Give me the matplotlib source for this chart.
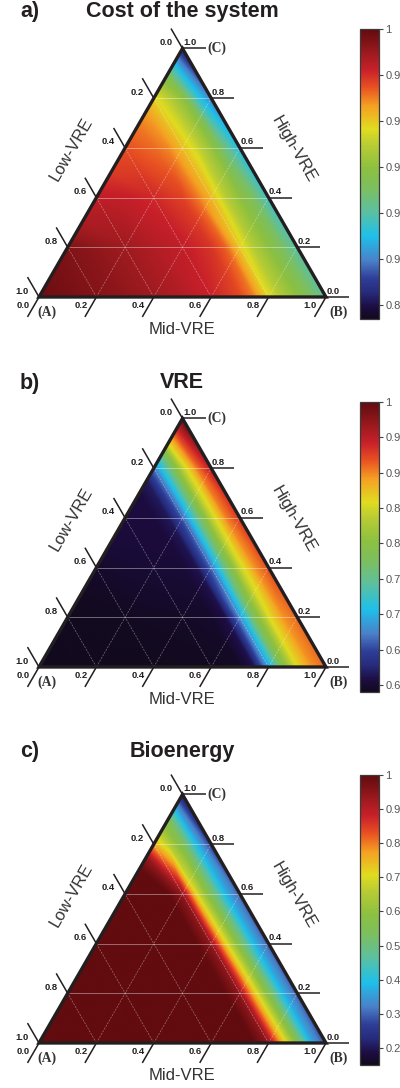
import numpy as np
import matplotlib
matplotlib.use("Agg")
import matplotlib.pyplot as plt
import matplotlib.tri as mtri
from matplotlib.colors import LinearSegmentedColormap
from matplotlib.patches import Polygon

# ---------------- data ----------------
# Each field is sampled along lines of constant Low-VRE share (parallel to the
# High-VRE/Mid-VRE side).  On each line the values are given at High-VRE share
# 0.0, 0.2, 0.4, 0.6, 0.8 (where present) and at the Low-VRE side of the line.
low_levels = [0.0, 0.05, 0.10, 0.15, 0.20, 0.25, 0.30, 0.40, 0.50, 0.60, 0.70, 0.80, 0.90, 1.0]
high_samples = [0.0, 0.2, 0.4, 0.6, 0.8]

cost_rows = [
    [0.922, 0.920, 0.915, 0.910, 0.899, 0.883],
    [0.931, 0.930, 0.930, 0.925, 0.915, 0.905],
    [0.9395, 0.9395, 0.940, 0.942, 0.940, 0.930],
    [0.947, 0.948, 0.950, 0.953, 0.950, 0.945],
    [0.957, 0.960, 0.963, 0.962, 0.958],
    [0.970, 0.973, 0.971, 0.969, 0.966],
    [0.976, 0.979, 0.977, 0.972, 0.970],
    [0.982, 0.9835, 0.981, 0.975],
    [0.986, 0.986, 0.983, 0.978],
    [0.989, 0.989, 0.984],
    [0.9915, 0.9915, 0.987],
    [0.9935, 0.994],
    [0.996, 0.996],
    [0.998],
]

vre_rows = [
    [0.910, 0.910, 0.920, 0.930, 0.950, 1.000],
    [0.895, 0.895, 0.895, 0.900, 0.905, 0.930],
    [0.860, 0.855, 0.845, 0.840, 0.840, 0.860],
    [0.790, 0.780, 0.760, 0.750, 0.750, 0.750],
    [0.690, 0.680, 0.665, 0.660, 0.670],
    [0.612, 0.610, 0.612, 0.615, 0.618],
    [0.594, 0.597, 0.603, 0.606, 0.607],
    [0.592, 0.595, 0.602, 0.606],
    [0.591, 0.594, 0.600, 0.604],
    [0.590, 0.592, 0.597],
    [0.590, 0.591, 0.593],
    [0.590, 0.590],
    [0.590, 0.590],
    [0.590],
]

bio_rows = [
    [0.28, 0.29, 0.29, 0.29, 0.26, 0.20],
    [0.37, 0.38, 0.38, 0.38, 0.38, 0.36],
    [0.57, 0.56, 0.55, 0.54, 0.55, 0.55],
    [0.75, 0.74, 0.72, 0.70, 0.66, 0.64],
    [0.94, 0.94, 0.94, 0.94, 0.76],
    [1.00, 1.00, 1.00, 1.00, 0.93],
    [1.00, 1.00, 1.00, 1.00, 1.00],
    [1.00, 1.00, 1.00, 1.00],
    [1.00, 1.00, 1.00, 1.00],
    [1.00, 1.00, 1.00],
    [1.00, 1.00, 1.00],
    [1.00, 1.00],
    [1.00, 1.00],
    [1.00],
]

cost_ticks = [0.88, 0.90, 0.92, 0.94, 0.96, 0.98, 1.0]
vre_ticks = [0.60, 0.65, 0.70, 0.75, 0.80, 0.85, 0.90, 0.95, 1.0]
bio_ticks = [0.2, 0.3, 0.4, 0.5, 0.6, 0.7, 0.8, 0.9, 1.0]

axis_ticks = [0.0, 0.2, 0.4, 0.6, 0.8, 1.0]
grid_levels = [0.2, 0.4, 0.6, 0.8]

# ---------------- colormap ----------------
cmap_stops = [
    (0.00, "#120a1e"), (0.04, "#1c0c40"), (0.09, "#262a7a"), (0.14, "#2e3e98"),
    (0.20, "#4a80c8"), (0.285, "#1ec0ea"), (0.37, "#5cc0a0"), (0.45, "#7cbf60"),
    (0.52, "#8cc040"), (0.60, "#b8cc34"), (0.655, "#e0dc20"), (0.735, "#f5a023"),
    (0.80, "#e85022"), (0.86, "#c8202a"), (0.92, "#9a1a1e"), (0.96, "#7c1216"),
    (1.00, "#620c0f"),
]
cmap = LinearSegmentedColormap.from_list("rainbow_custom", cmap_stops, N=512)
cmap.set_under(cmap(0.0))
cmap.set_over(cmap(1.0))
cmap.set_bad((1, 1, 1, 0))

SANS = ["Liberation Sans", "DejaVu Sans"]
SERIF = ["Liberation Serif", "DejaVu Serif"]
DARK = "#231f20"

W, H = 400.0, 1088.0
fig = plt.figure(figsize=(4.0, 10.88), dpi=100)

SIDE = 287.0      # triangle side, px
AXL = 39.0        # x of vertex A, px
R3 = np.sqrt(3) / 2


def tern(m, h):
    """Mid share m, High share h -> cartesian (A at origin, side 1)."""
    return m + h / 2.0, h * R3


def sample_triangulation(rows):
    xs, ys, vs, us, ws = [], [], [], [], []
    for a, row in zip(low_levels, rows):
        hs = [h for h in high_samples if h < 1 - a - 1e-9] + [1 - a]
        assert len(hs) == len(row)
        for h, v in zip(hs, row):
            x, y = tern(1 - a - h, h)
            xs.append(x)
            ys.append(y)
            vs.append(v)
            us.append(a * 4.0)   # stretched coordinates so triangles join
            ws.append(h)         # neighbouring sample lines only
    helper = mtri.Triangulation(np.array(us), np.array(ws))
    tri = mtri.Triangulation(np.array(xs), np.array(ys), triangles=helper.triangles)
    return tri, np.array(vs)


panels = [
    dict(Ay=297, letter="a)", title="Cost of the system", ty=12, rows=cost_rows,
         vmin=0.874, vmax=1.0, ticks=cost_ticks, cb=(29, 319)),
    dict(Ay=667, letter="b)", title="VRE", ty=383, rows=vre_rows,
         vmin=0.59, vmax=1.0, ticks=vre_ticks, cb=(402, 692)),
    dict(Ay=1043, letter="c)", title="Bioenergy", ty=752, rows=bio_rows,
         vmin=0.15, vmax=1.0, ticks=bio_ticks, cb=(775, 1065)),
]

for p in panels:
    Ay = p["Ay"]
    top_px, bot_px = Ay - 285, Ay + 45
    ax = fig.add_axes([0.0, 1 - bot_px / H, 355 / W, (bot_px - top_px) / H])
    ax.set_xlim((0 - AXL) / SIDE, (355 - AXL) / SIDE)
    ax.set_ylim(-45 / SIDE, 285 / SIDE)
    ax.set_aspect("auto")
    ax.axis("off")

    def d(px):
        return px / SIDE

    tri, vs = sample_triangulation(p["rows"])
    interp = mtri.LinearTriInterpolator(tri, vs)
    gx = np.linspace(0, 1, 720)
    gy = np.linspace(0, R3, 624)
    GX, GY = np.meshgrid(gx, gy)
    Z = interp(GX, GY)

    A = tern(0, 0)
    B = tern(1, 0)
    C = tern(0, 1)
    im = ax.imshow(Z, extent=(0, 1, 0, R3), origin="lower", cmap=cmap,
                   vmin=p["vmin"], vmax=p["vmax"], interpolation="bilinear",
                   aspect="auto", zorder=1)
    clip = Polygon([A, B, C], closed=True, transform=ax.transData)
    im.set_clip_path(clip)

    # grid lines
    for g in grid_levels:
        x0, y0 = tern(0, g)
        x1, y1 = tern(1 - g, g)
        ax.plot([x0, x1], [y0, y1], color="white", alpha=0.45, lw=0.6, zorder=2)
        x0, y0 = tern(g, 0)
        x1, y1 = tern(g, 1 - g)
        ax.plot([x0, x1], [y0, y1], color="white", alpha=0.4, lw=0.5,
                ls=(0, (3, 1.5)), zorder=2)
        x0, y0 = tern(1 - g, 0)
        x1, y1 = tern(0, 1 - g)
        ax.plot([x0, x1], [y0, y1], color="white", alpha=0.4, lw=0.5,
                ls=(0, (3, 1.5)), zorder=2)

    outline = Polygon([A, B, C], closed=True, fill=False, ec=DARK, lw=2.4,
                      joinstyle="miter", zorder=4)
    ax.add_patch(outline)

    L = d(23)
    fs_tick = 6.8
    for t in axis_ticks:
        # Low-VRE (left side)
        x, y = tern(0, 1 - t)
        ax.plot([x, x - 0.5 * L], [y, y + R3 * L], color=DARK, lw=1.1,
                solid_capstyle="butt", zorder=3, clip_on=False)
        ax.text(x - d(10), y + d(6), f"{t:.1f}", ha="right", va="center",
                fontsize=fs_tick, fontweight="bold", color=DARK, family=SANS)
        # Mid-VRE (bottom side)
        x, y = tern(t, 0)
        ax.plot([x, x - 0.5 * L], [y, y - R3 * L], color=DARK, lw=1.1,
                solid_capstyle="butt", zorder=3, clip_on=False)
        ax.text(x - d(9), y - d(8), f"{t:.1f}", ha="right", va="center",
                fontsize=fs_tick, fontweight="bold", color=DARK, family=SANS)
        # High-VRE (right side)
        x, y = tern(1 - t, t)
        ax.plot([x, x + L], [y, y], color=DARK, lw=1.1,
                solid_capstyle="butt", zorder=3, clip_on=False)
        ax.text(x + d(0.5), y + d(6), f"{t:.1f}", ha="left", va="center",
                fontsize=fs_tick, fontweight="bold", color=DARK, family=SANS)

    ax.text(A[0] - d(2), A[1] - d(15), "(A)", ha="left", va="center",
            fontsize=9.8, fontweight="bold", color="#333333", family=SERIF)
    ax.text(B[0] + d(3), B[1] - d(15), "(B)", ha="left", va="center",
            fontsize=9.8, fontweight="bold", color="#333333", family=SERIF)
    ax.text(C[0] + d(25), C[1] + d(0.5), "(C)", ha="left", va="center",
            fontsize=9.8, fontweight="bold", color="#333333", family=SERIF)

    ax.text(0.5, -d(33), "Mid-VRE", ha="center", va="center", fontsize=12,
            color="#333333", family=SANS)
    mlx, mly = tern(0, 0.5)
    ax.text(mlx - 0.866 * d(46), mly + 0.5 * d(46), "Low-VRE", ha="center",
            va="center", rotation=60, rotation_mode="anchor", fontsize=12,
            color="#333333", family=SANS)
    mrx, mry = tern(0.5, 0.5)
    ax.text(mrx + 0.866 * d(46), mry + 0.5 * d(46), "High-VRE", ha="center",
            va="center", rotation=-60, rotation_mode="anchor", fontsize=12,
            color="#333333", family=SANS)

    fig.text(20 / W, 1 - p["ty"] / H, p["letter"], ha="left", va="center",
             fontsize=15.5, fontweight="bold", color=DARK, family=SANS)
    fig.text(182 / W, 1 - p["ty"] / H, p["title"], ha="center", va="center",
             fontsize=15.5, fontweight="bold", color=DARK, family=SANS)

    cb_top, cb_bot = p["cb"]
    cax = fig.add_axes([360 / W, 1 - cb_bot / H, 19 / W, (cb_bot - cb_top) / H])
    cbar = fig.colorbar(im, cax=cax, ticks=p["ticks"])
    cbar.ax.set_yticklabels([f"{v:g}" for v in p["ticks"]])
    cbar.outline.set_edgecolor("#3c3c3c")
    cbar.outline.set_linewidth(0.9)
    cbar.ax.tick_params(direction="out", length=3, width=0.8, color="#444444",
                        labelsize=8, labelcolor="#555555", pad=1.5)
    for lab in cbar.ax.get_yticklabels():
        lab.set_family(SANS)

fig.savefig("out.png", dpi=100)
